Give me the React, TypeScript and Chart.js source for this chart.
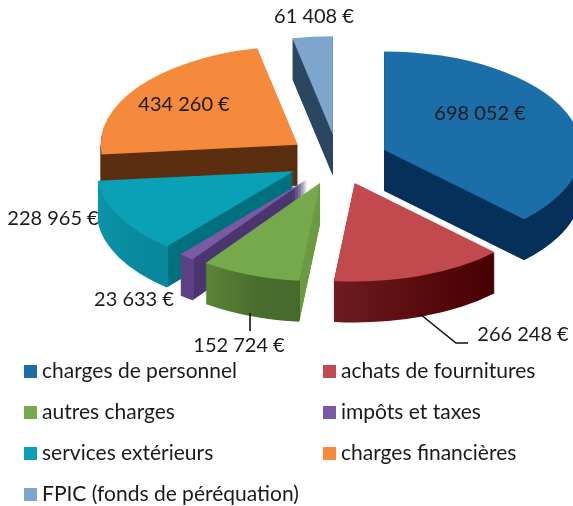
import React, { useEffect, useRef } from "react";
import { Chart, registerables } from "chart.js";

Chart.register(...registerables);

const categories = [
  "charges de personnel",
  "achats de fournitures",
  "autres charges",
  "impôts et taxes",
  "services extérieurs",
  "charges financières",
  "FPIC (fonds de péréquation)",
];
const amounts = [698052, 266248, 152724, 23633, 228965, 434260, 61408];
const faceColors = ["#1c6ea8", "#c2494d", "#76a94b", "#7a5aa5", "#0aa0b6", "#f58a3d", "#7ea5cb"];

type Stop = [number, string];
const wallStops: Stop[][] = [
  [[0, "#04305a"], [600, "#04305a"]],
  [[334, "#6e1c20"], [400, "#5e0f12"], [494, "#470002"]],
  [[206, "#5b8436"], [255, "#4a6e2e"], [299.5, "#466a2c"], [300.5, "#6b9a42"], [325, "#6b9a42"]],
  [[181, "#5b4184"], [193.5, "#5b4184"], [194.5, "#4a3570"], [310, "#4a3570"]],
  [[98, "#0b93a8"], [140, "#08899d"], [167.5, "#07889c"], [168.5, "#00707f"], [300, "#00707f"]],
  [[0, "#5a2e0e"], [600, "#5a2e0e"]],
  [[0, "#2b4661"], [600, "#2b4661"]],
];
const paintOrder = [6, 5, 0, 4, 3, 2, 1];

const PIE_X = 338;
const PIE_Y = 159.5;
const SQUASH = 0.5;
const DEPTH = 41;
const RADIUS = 197;
const EXPLODE = 50;
const TEXT_FONT = "Lato, 'Open Sans', sans-serif";

const labelCentres: [number, number][] = [
  [480, 114],
  [523, 335],
  [239, 346],
  [134, 300],
  [53, 219],
  [184, 105],
  [314, 17],
];
const leaderLines: [number, number][][] = [
  [[420, 314], [456, 343], [468, 343]],
  [[250, 313], [250, 331]],
];
const legendColumns = [24, 323];
const legendRows = [371, 412, 453, 494];

const money = (v: number) => {
  const s = String(v);
  return s.slice(0, s.length - 3) + " " + s.slice(-3) + " €";
};

const pie3d = {
  id: "pie3d",
  beforeDatasetsDraw(chart: any) {
    const ctx: CanvasRenderingContext2D = chart.ctx;
    const arcs = chart.getDatasetMeta(0).data;
    const ox = (chart.chartArea.left + chart.chartArea.right) / 2;
    const oy = (chart.chartArea.top + chart.chartArea.bottom) / 2;

    for (const i of paintOrder) {
      const arc = arcs[i];
      const mid = (arc.startAngle + arc.endAngle) / 2;
      const shiftX = Math.cos(mid) * EXPLODE;
      const shiftY = Math.sin(mid) * EXPLODE;
      const place = (drop: number) => {
        ctx.translate(PIE_X, PIE_Y + drop);
        ctx.scale(1, SQUASH);
        ctx.translate(shiftX - ox, shiftY - oy);
      };
      const toLocal = (x: number) => x - PIE_X - shiftX + ox;
      const stops = wallStops[i];
      const g = ctx.createLinearGradient(toLocal(stops[0][0]), 0, toLocal(stops[stops.length - 1][0]), 0);
      const span = stops[stops.length - 1][0] - stops[0][0];
      stops.forEach(([x, c]) => g.addColorStop((x - stops[0][0]) / span, c));

      const opts = arc.options;
      const face = opts.backgroundColor;
      opts.backgroundColor = g;
      for (let d = DEPTH; d > 0; d--) {
        ctx.save();
        place(d);
        arc.draw(ctx);
        ctx.restore();
      }
      opts.backgroundColor = face;
      ctx.save();
      place(0);
      arc.draw(ctx);
      ctx.restore();
    }

    ctx.save();
    ctx.strokeStyle = "#111";
    ctx.lineWidth = 1.6;
    for (const line of leaderLines) {
      ctx.beginPath();
      line.forEach(([x, y], k) => (k ? ctx.lineTo(x, y) : ctx.moveTo(x, y)));
      ctx.stroke();
    }
    ctx.fillStyle = "#1a1a1a";
    ctx.textAlign = "center";
    ctx.textBaseline = "middle";
    ctx.font = `20px ${TEXT_FONT}`;
    chart.data.datasets[0].data.forEach((v: number, i: number) => {
      ctx.fillText(money(v), labelCentres[i][0], labelCentres[i][1]);
    });

    ctx.textAlign = "left";
    ctx.font = `21px ${TEXT_FONT}`;
    chart.data.labels.forEach((name: string, i: number) => {
      const x = legendColumns[i % 2];
      const y = legendRows[Math.floor(i / 2)];
      ctx.fillStyle = faceColors[i];
      ctx.fillRect(x, y - 6, 13, 13);
      ctx.fillStyle = "#1a1a1a";
      ctx.fillText(name, x + 18, y);
    });
    ctx.restore();
    return false;
  },
};

export default function App() {
  const ref = useRef<HTMLCanvasElement>(null);
  useEffect(() => {
    const chart = new Chart(ref.current!, {
      type: "pie",
      data: {
        labels: categories,
        datasets: [
          {
            data: amounts,
            backgroundColor: faceColors,
            borderWidth: 0,
          },
        ],
      },
      options: {
        responsive: false,
        animation: false,
        radius: RADIUS,
        events: [],
        plugins: { legend: { display: false }, tooltip: { enabled: false } },
      } as any,
      plugins: [pie3d],
    });
    return () => chart.destroy();
  }, []);
  return (
    <canvas
      ref={ref}
      width={573}
      height={506}
      style={{ position: "absolute", left: 0, top: 0, display: "block" }}
    />
  );
}
